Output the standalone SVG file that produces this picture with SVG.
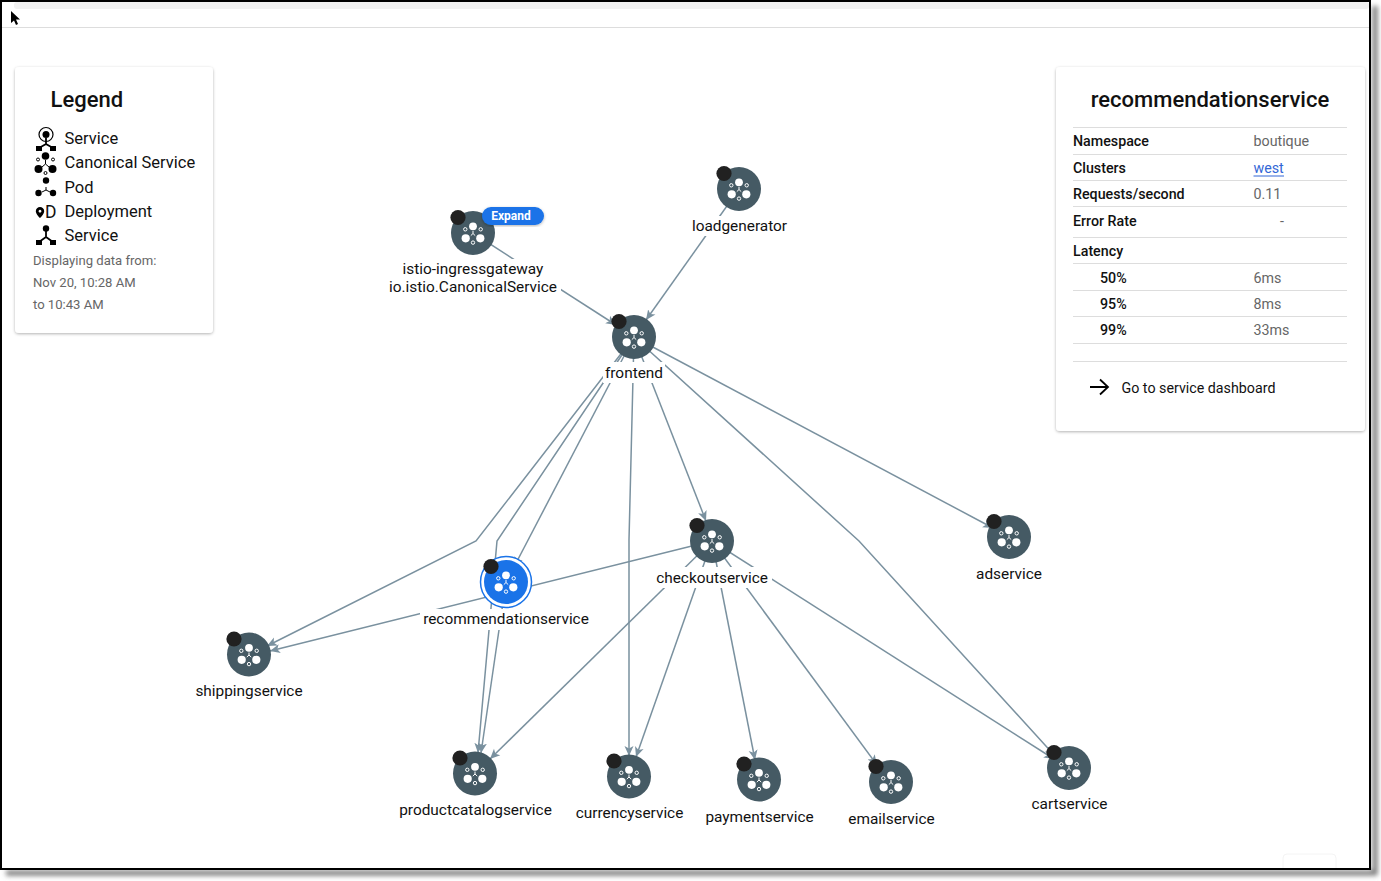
<svg xmlns="http://www.w3.org/2000/svg" width="1381" height="881" viewBox="0 0 1381 881">
<style>
text{font-family:Roboto,"Liberation Sans",sans-serif;fill:#111}
.lbl{font-size:15.4px;text-anchor:middle}
.leg{font-size:16.5px}
.sm{font-size:13.1px;fill:#666}
.k{font-size:14.25px;font-weight:500}
.v{font-size:14.25px;fill:#666}
.e{fill:none;stroke:#7a919f;stroke-width:1.5;marker-end:url(#ah)}
.row{stroke:#ddd;stroke-width:1}
.bg{fill:#fff}
.w{fill:#fff}
</style>
<defs>
<marker id="ah" markerUnits="userSpaceOnUse" markerWidth="14" markerHeight="14" refX="10" refY="6" orient="auto">
<path d="M0,1.500 L10,6 L0,10.500 L2.500,6z" fill="#7a919f"/>
</marker>
<filter id="card" x="-10%" y="-10%" width="120%" height="120%"><feDropShadow dx="0" dy="1" stdDeviation="1.500" flood-color="#000" flood-opacity=".3"/></filter>
<filter id="blur" x="-5%" y="-5%" width="110%" height="110%"><feGaussianBlur stdDeviation="2.500"/></filter>
<g id="glyph">
<circle cx="0" cy="-6.700" r="3.900" class="w"/><circle cx="-7.300" cy="5.300" r="4.100" class="w"/><circle cx="7.300" cy="5.300" r="4.100" class="w"/>
<g fill="none" stroke="#fff" stroke-width="1"><circle cx="-7.700" cy="-3.700" r="1.700"/><circle cx="7.700" cy="-3.700" r="1.700"/><circle cx="0" cy="9.600" r="1.700"/><path d="M0,-2V.5M0,.5L-2.200,2.600M0,.5L2.200,2.600"/></g>
</g>
<g id="node"><circle r="22" fill="#455a64"/><use href="#glyph"/><circle cx="-15" cy="-15.500" r="7.600" fill="#212121"/></g>
</defs>
<rect width="1381" height="881" fill="#fff"/>
<path d="M6,873H1375V6" fill="none" stroke="#777" stroke-width="5" filter="url(#blur)"/>
<rect x="1" y="1" width="1369" height="868" fill="#fff" stroke="#000" stroke-width="2"/>
<rect x="14" y="2" width="1355" height="7" rx="3" fill="#f1f1f1"/>
<line x1="2" y1="27.500" x2="1369" y2="27.500" stroke="#ddd"/>
<path d="M11,11V23L14,20.500L16,25L18,24L16,19.500H20z" fill="#000"/>
<path d="M1283,868V858a4,4 0 0 1 4,-4H1332a4,4 0 0 1 4,4V868" fill="#fff" stroke="#f4f4f4"/>

<g id="connectors">
<path class="e" d="M473,233L616,325"/>
<path class="e" d="M739,189L646,320"/>
<path class="e" d="M634,337L993,528"/>
<path class="e" d="M634,337L859,541L1055,756"/>
<path class="e" d="M634,337L706,521"/>
<path class="e" d="M634,337L629,540L629,756"/>
<path class="e" d="M634,337L476,541L267,646"/>
<path class="e" d="M634,337L497,541L478,753"/>
<path class="e" d="M634,337L514,567"/>
<path class="e" d="M712,541L270,651"/>
<path class="e" d="M506,582L481,753"/>
<path class="e" d="M712,541L490,759"/>
<path class="e" d="M712,541L636,757"/>
<path class="e" d="M712,541L755,760"/>
<path class="e" d="M712,541L877,765"/>
<path class="e" d="M712,541L1054,759"/>
</g>

<g id="node-istio"><rect class="bg" x="386" y="259" width="175" height="37"/><use href="#node" x="473" y="233"/>
<rect x="482" y="207" width="62" height="18" rx="9" fill="#1a73e8" filter="url(#card)"/><text x="511" y="220" font-size="12" font-weight="700" text-anchor="middle" style="fill:#fff">Expand</text>
<text class="lbl" x="473" y="274">istio-ingressgateway</text><text class="lbl" x="473" y="292">io.istio.CanonicalService</text></g>
<g id="node-loadgenerator"><rect class="bg" x="690" y="216" width="99" height="20"/><use href="#node" x="739" y="189"/><text class="lbl" x="739.500" y="231">loadgenerator</text></g>
<g id="node-frontend"><rect class="bg" x="603" y="362" width="62" height="21"/><use href="#node" x="634" y="337"/><text class="lbl" x="634" y="378">frontend</text></g>
<g id="node-checkoutservice"><rect class="bg" x="654" y="567" width="118" height="21"/><use href="#node" x="712" y="541"/><text class="lbl" x="712" y="583">checkoutservice</text></g>
<g id="node-recommendationservice"><rect class="bg" x="420" y="609" width="172" height="21"/>
<circle cx="506" cy="582" r="25.500" fill="#fff" stroke="#1a73e8" stroke-width="1.500"/><circle cx="506" cy="582" r="22" fill="#1a73e8"/><use href="#glyph" x="506" y="582"/><circle cx="491" cy="566.500" r="7.600" fill="#212121"/>
<text class="lbl" x="506" y="624">recommendationservice</text></g>
<g id="node-adservice"><use href="#node" x="1009" y="537"/><text class="lbl" x="1009" y="579">adservice</text></g>
<g id="node-shippingservice"><use href="#node" x="249" y="654.500"/><text class="lbl" x="249" y="696">shippingservice</text></g>
<g id="node-productcatalogservice"><use href="#node" x="475" y="773.500"/><text class="lbl" x="475.500" y="815">productcatalogservice</text></g>
<g id="node-currencyservice"><use href="#node" x="629" y="776.500"/><text class="lbl" x="629.500" y="818">currencyservice</text></g>
<g id="node-paymentservice"><use href="#node" x="759" y="779.500"/><text class="lbl" x="759.500" y="822">paymentservice</text></g>
<g id="node-emailservice"><use href="#node" x="891" y="782"/><text class="lbl" x="891.500" y="824">emailservice</text></g>
<g id="node-cartservice"><use href="#node" x="1069" y="768"/><text class="lbl" x="1069.500" y="809">cartservice</text></g>

<g id="legend">
<rect x="15" y="67" width="198" height="266" rx="4" fill="#fff" filter="url(#card)"/>
<text x="50.500" y="107" font-size="22" font-weight="500">Legend</text>
<g fill="#000" stroke="none">
<circle cx="46" cy="134.500" r="3.500"/><circle cx="46" cy="134.500" r="7" fill="none" stroke="#000" stroke-width="1.200"/>
<path d="M46,138V144L39,148M46,144L53,148" fill="none" stroke="#000" stroke-width="1.800"/><rect x="36" y="146" width="6" height="5"/><rect x="50" y="146" width="6" height="5"/>
<circle cx="45.500" cy="156" r="3.800"/><circle cx="38.500" cy="169" r="4"/><circle cx="52.500" cy="169" r="4"/>
<g fill="none" stroke="#000" stroke-width="1"><circle cx="38" cy="159.500" r="1.500"/><circle cx="53" cy="159.500" r="1.500"/><circle cx="45.500" cy="173" r="1.500"/><path d="M45.500,160V164L42,167M45.500,164L49,167"/></g>
<circle cx="46" cy="180.500" r="3.200"/><circle cx="38.500" cy="193" r="3.200"/><circle cx="53" cy="193" r="3.200"/>
<path d="M46,187V190L42,192M46,190L50,192" fill="none" stroke="#000" stroke-width="1"/>
<path d="M40,207a4.200,4.200 0 0 1 4.200,4.200C44.200,214 40,218 40,218C40,218 35.800,214 35.800,211.200A4.200,4.200 0 0 1 40,207zM40,209.800a1.400,1.400 0 1 0 .01,0z" fill-rule="evenodd"/>
<circle cx="46" cy="228.500" r="3.200"/><path d="M46,231V237L39,242M46,237L53,242" fill="none" stroke="#000" stroke-width="1.800"/><rect x="36" y="240" width="6" height="5"/><rect x="50" y="240" width="6" height="5"/>
</g>
<text x="45" y="218" font-size="17.500">D</text>
<text class="leg" x="64.500" y="144">Service</text>
<text class="leg" x="64.500" y="168">Canonical Service</text>
<text class="leg" x="64.500" y="193">Pod</text>
<text class="leg" x="64.500" y="217">Deployment</text>
<text class="leg" x="64.500" y="241">Service</text>
<text class="sm" x="33" y="265">Displaying data from:</text>
<text class="sm" x="33" y="287">Nov 20, 10:28 AM</text>
<text class="sm" x="33" y="309">to 10:43 AM</text>
</g>

<g id="details">
<rect x="1056" y="67" width="309" height="364" rx="4" fill="#fff" filter="url(#card)"/>
<text x="1210" y="107" font-size="22" font-weight="500" text-anchor="middle">recommendationservice</text>
<g><line class="row" x1="1073" x2="1347" y1="127.500" y2="127.500"/><line class="row" x1="1073" x2="1347" y1="154.500" y2="154.500"/><line class="row" x1="1073" x2="1347" y1="180.500" y2="180.500"/><line class="row" x1="1073" x2="1347" y1="206.500" y2="206.500"/><line class="row" x1="1073" x2="1347" y1="237.500" y2="237.500"/><line class="row" x1="1073" x2="1347" y1="263.500" y2="263.500"/><line class="row" x1="1073" x2="1347" y1="290.500" y2="290.500"/><line class="row" x1="1073" x2="1347" y1="316.500" y2="316.500"/><line class="row" x1="1073" x2="1347" y1="343.500" y2="343.500"/><line class="row" x1="1073" x2="1347" y1="361.500" y2="361.500"/></g>
<text class="k" x="1073" y="146">Namespace</text><text class="v" x="1253.500" y="146">boutique</text>
<text class="k" x="1073" y="173">Clusters</text><text class="v" x="1253.500" y="173" style="fill:#3367d6">west</text><line x1="1253.500" x2="1284" y1="176" y2="176" stroke="#3367d6"/>
<text class="k" x="1073" y="199">Requests/second</text><text class="v" x="1253.500" y="199">0.11</text>
<text class="k" x="1073" y="226">Error Rate</text><text class="v" x="1280" y="226">-</text>
<text class="k" x="1073" y="256">Latency</text>
<text class="k" x="1100" y="283">50%</text><text class="v" x="1253.500" y="283">6ms</text>
<text class="k" x="1100" y="309">95%</text><text class="v" x="1253.500" y="309">8ms</text>
<text class="k" x="1100" y="335">99%</text><text class="v" x="1253.500" y="335">33ms</text>
<path d="M1090,387H1107M1100,379.500L1108,387L1100,394.500" fill="none" stroke="#000" stroke-width="1.800"/>
<text x="1121.500" y="393" font-size="14.250">Go to service dashboard</text>
</g>
</svg>
